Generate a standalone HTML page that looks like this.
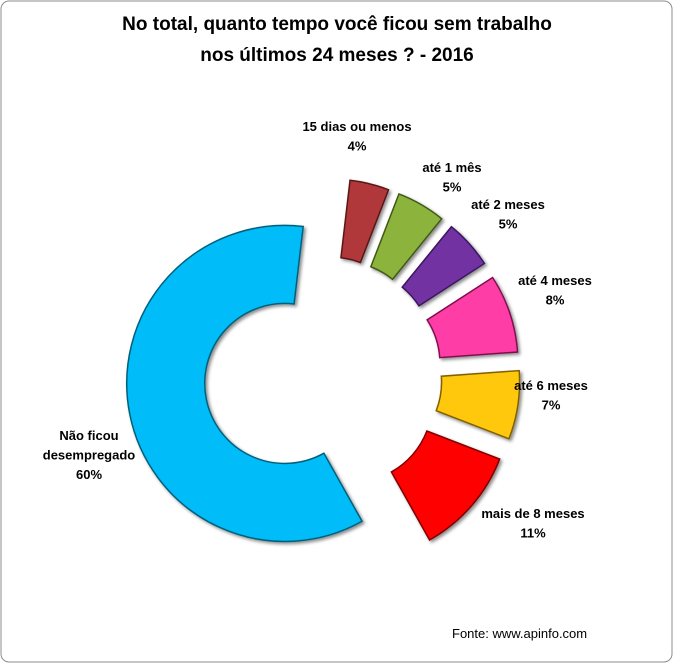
<!DOCTYPE html>
<html><head><meta charset="utf-8"><style>
html,body{margin:0;padding:0;background:#fff}
svg{display:block;font-family:"Liberation Sans",Arial,sans-serif}
</style></head><body>
<svg id="chart" width="674" height="664" viewBox="0 0 674 664">
<defs>
<filter id="sh" x="-20%" y="-20%" width="140%" height="140%"><feDropShadow dx="2" dy="2" stdDeviation="1.5" flood-color="#000" flood-opacity="0.45"/></filter>
</defs>
<rect x="1" y="1" width="671" height="661" rx="8" fill="#fff" stroke="#8c8c8c"/>
<text x="337" y="30" text-anchor="middle" font-size="19" font-weight="bold" fill="#000">No total, quanto tempo você ficou sem trabalho</text>
<text x="337" y="61" text-anchor="middle" font-size="19" font-weight="bold" fill="#000">nos últimos 24 meses ? - 2016</text>
<g id="slices"></g>
<g id="labels" font-size="13" font-weight="bold" fill="#000" text-anchor="middle"></g>
<text x="452" y="638" font-size="13" fill="#000">Fonte: www.apinfo.com</text>
</svg>
<script>
const categories = ["15 dias ou menos","até 1 mês","até 2 meses","até 4 meses","até 6 meses","mais de 8 meses","Não ficou desempregado"];
const values = [4,5,5,8,7,11,60];
const valueLabels = ["4%","5%","5%","8%","7%","11%","60%"];
const colors = ["#b0383a","#8cb43e","#7232a2","#ff3ea6","#ffc808","#ff0000","#00bcf8"];
const strokes = ["#5a1414","#3f5a16","#3a1660","#80104e","#806000","#800000","#00607c"];
const labelPos = [[357,131],[452,172],[508,209],[555,285],[551,390],[533,518],[89,440]];
const cx=322, cy=376, R=158, r0=80, startDeg=6.7;
const explode=[40,40,40,40,40,40,38];
const NS="http://www.w3.org/2000/svg";
const total=values.reduce((a,b)=>a+b,0);
function pt(x,y,rad,deg){const a=deg*Math.PI/180;return [x+rad*Math.sin(a),y-rad*Math.cos(a)];}
const g=document.getElementById('slices');
let ang=startDeg;
values.forEach((v,i)=>{
  const span=v/total*360, a0=ang, a1=ang+span, mid=(a0+a1)/2;
  const c=pt(cx,cy,explode[i],mid);
  const p1=pt(c[0],c[1],R,a0),p2=pt(c[0],c[1],R,a1),p3=pt(c[0],c[1],r0,a1),p4=pt(c[0],c[1],r0,a0);
  const lg=span>180?1:0;
  const d=`M${p1[0]},${p1[1]} A${R},${R} 0 ${lg} 1 ${p2[0]},${p2[1]} L${p3[0]},${p3[1]} A${r0},${r0} 0 ${lg} 0 ${p4[0]},${p4[1]} Z`;
  const p=document.createElementNS(NS,'path');
  p.setAttribute('d',d);p.setAttribute('fill',colors[i]);p.setAttribute('stroke',strokes[i]);p.setAttribute('stroke-width','1.5');p.setAttribute('filter','url(#sh)');
  
  
  g.appendChild(p);
  ang=a1;
});
const lg2=document.getElementById('labels');
categories.forEach((c,i)=>{
  const lines = i===6 ? ["Não ficou","desempregado"] : [c];
  const [x,y]=labelPos[i];
  const t=document.createElementNS(NS,'text');
  t.setAttribute('x',x);t.setAttribute('y',y);
  
  
  lines.concat([valueLabels[i]]).forEach((s,j)=>{
    const ts=document.createElementNS(NS,'tspan');
    ts.setAttribute('x',x);ts.setAttribute('dy',j===0?0:19.5);ts.textContent=s;t.appendChild(ts);
  });
  lg2.appendChild(t);
});
</script>
</body></html>
